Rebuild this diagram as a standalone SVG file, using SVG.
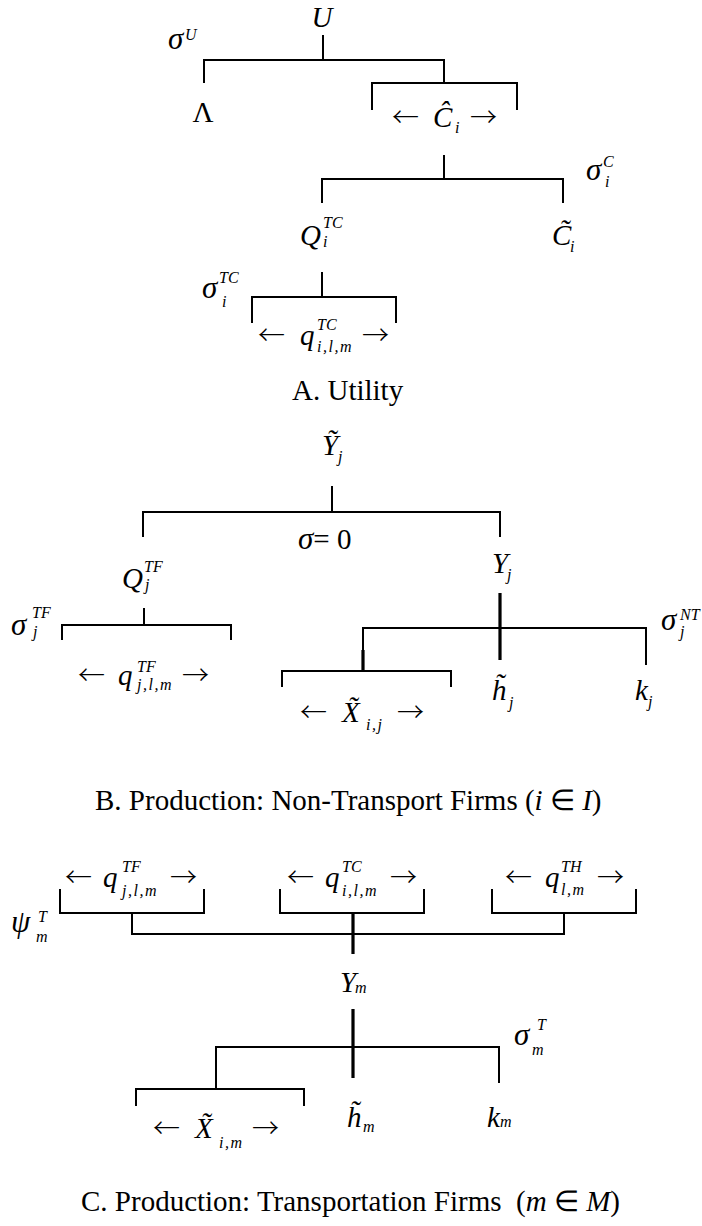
<svg xmlns="http://www.w3.org/2000/svg" width="702" height="1226" viewBox="0 0 702 1226">
<style>
.t{font-family:"Liberation Serif","Times New Roman",serif;fill:#000}
.i{font-style:italic}
.L{font-size:29px}
.S{font-size:16px}
.G{font-size:31px}
.A{font-family:"Noto Sans CJK JP","Liberation Serif",serif;font-size:27px;font-weight:300}
.cap{font-size:29px}
.sp{letter-spacing:1.5px}
.ln{stroke:#000;stroke-width:2;fill:none}
.tk{stroke:#000;stroke-width:3.2;fill:none}
</style>
<rect width="702" height="1226" fill="#fff"/>
<g id="connectors">
<path class="ln" d="M323 35V60M204 83V60H444V83M372 110V83H517V110M444 155V179M322 203V179H563V203M322 272V297M252 323V297H396V323"/>
<path class="ln" d="M332 486V512M143 537V512H500V537M144 608V625M62 640V625H231V640M363 650V628H646V665M282 687V671H451V687"/>
<path class="tk" d="M500 593V660M363 650V671"/>
<path class="ln" d="M60 889V913H204V889M280 889V913H424V889M492 889V913H636V889M132 913V934H564V913M216 1089V1047H499V1083M136 1106V1089H304V1106"/>
<path class="tk" d="M353 913V954M353 1009V1078"/>
</g>
<g id="node-U"><text class="t i L" x="322" y="27" text-anchor="middle">U</text></g>
<g id="sigma-U"><text class="t i G" x="168" y="49">σ<tspan class="S" x="185" y="40">U</tspan></text></g>
<g id="node-Lambda"><text class="t L" x="203" y="122" text-anchor="middle">Λ</text></g>
<g id="node-Chat"><text class="t A" x="392" y="127">←</text><text class="t i L" x="433" y="127">Ĉ<tspan class="S" x="455" y="133">i</tspan></text><text class="t A" x="470" y="127">→</text></g>
<g id="sigma-C"><text class="t i G" x="586" y="180">σ<tspan class="S" x="603" y="167">C</tspan><tspan class="S" x="605" y="187">i</tspan></text></g>
<g id="node-QTC"><text class="t i L" x="300" y="245">Q<tspan class="S" x="323" y="228">TC</tspan><tspan class="S" x="323" y="247">i</tspan></text></g>
<g id="node-Ctilde"><text class="t i L" x="552" y="245">C&#x303;<tspan class="S" x="570" y="252">i</tspan></text></g>
<g id="sigma-TC"><text class="t i G" x="202" y="298">σ<tspan class="S" x="219" y="283">TC</tspan><tspan class="S" x="222" y="307">i</tspan></text></g>
<g id="node-qTC"><text class="t A" x="258" y="345">←</text><text class="t i L" x="300" y="345">q<tspan class="S" x="317" y="330">TC</tspan><tspan class="S sp" x="317" y="352">i,l,m</tspan></text><text class="t A" x="362" y="345">→</text></g>
<g id="caption-A"><text class="t cap" x="292" y="400">A. Utility</text></g>

<g id="node-Ytilde"><text class="t i L" x="322" y="455">Ỹ<tspan class="S" x="338" y="462">j</tspan></text></g>
<g id="sigma-0"><text class="t L" x="298" y="549"><tspan class="i G">σ</tspan>= 0</text></g>
<g id="node-QTF"><text class="t i L" x="122" y="588">Q<tspan class="S" x="144" y="572">TF</tspan><tspan class="S" x="145" y="590">j</tspan></text></g>
<g id="sigma-TF"><text class="t i G" x="11" y="635">σ<tspan class="S" x="32" y="618">TF</tspan><tspan class="S" x="33" y="637">j</tspan></text></g>
<g id="node-qTF"><text class="t A" x="78" y="685">←</text><text class="t i L" x="118" y="685">q<tspan class="S" x="137" y="672">TF</tspan><tspan class="S sp" x="137" y="690">j,l,m</tspan></text><text class="t A" x="182" y="685">→</text></g>
<g id="node-Yj"><text class="t i L" x="492" y="573">Y<tspan class="S" x="507" y="580">j</tspan></text></g>
<g id="sigma-NT"><text class="t i G" x="661" y="630">σ<tspan class="S" x="680" y="620">NT</tspan><tspan class="S" x="680" y="637">j</tspan></text></g>
<g id="node-Xij"><text class="t A" x="300" y="722">←</text><text class="t i L" x="342" y="722">X&#x303;<tspan class="S sp" x="366" y="730">i,j</tspan></text><text class="t A" x="397" y="722">→</text></g>
<g id="node-hj"><text class="t i L" x="492" y="700">h&#x303;<tspan class="S" x="509" y="708">j</tspan></text></g>
<g id="node-kj"><text class="t i L" x="635" y="700">k<tspan class="S" x="648" y="707">j</tspan></text></g>
<g id="caption-B"><text class="t cap" x="95" y="810">B. Production: Non-Transport Firms (<tspan class="i">i</tspan> ∈ <tspan class="i">I</tspan>)</text></g>

<g id="node-qTF-C"><text class="t A" x="65" y="887">←</text><text class="t i L" x="103" y="887">q<tspan class="S" x="122" y="872">TF</tspan><tspan class="S sp" x="122" y="896">j,l,m</tspan></text><text class="t A" x="170" y="887">→</text></g>
<g id="node-qTC-C"><text class="t A" x="287" y="887">←</text><text class="t i L" x="325" y="887">q<tspan class="S" x="342" y="872">TC</tspan><tspan class="S sp" x="342" y="896">i,l,m</tspan></text><text class="t A" x="390" y="887">→</text></g>
<g id="node-qTH-C"><text class="t A" x="505" y="887">←</text><text class="t i L" x="545" y="887">q<tspan class="S" x="561" y="872">TH</tspan><tspan class="S sp" x="561" y="895">l,m</tspan></text><text class="t A" x="597" y="887">→</text></g>
<g id="psi-T"><text class="t i G" x="11" y="932">ψ<tspan class="S" x="38" y="922">T</tspan><tspan class="S" x="36" y="942">m</tspan></text></g>
<g id="node-Ym"><text class="t i L" x="340" y="992">Y<tspan class="S" x="355" y="993">m</tspan></text></g>
<g id="sigma-T"><text class="t i G" x="514" y="1045">σ<tspan class="S" x="537" y="1030">T</tspan><tspan class="S" x="532" y="1055">m</tspan></text></g>
<g id="node-Xim"><text class="t A" x="153" y="1138">←</text><text class="t i L" x="195" y="1138">X&#x303;<tspan class="S sp" x="219" y="1148">i,m</tspan></text><text class="t A" x="252" y="1138">→</text></g>
<g id="node-hm"><text class="t i L" x="347" y="1127">h&#x303;<tspan class="S" x="363" y="1132">m</tspan></text></g>
<g id="node-km"><text class="t i L" x="487" y="1127">k<tspan class="S" x="500" y="1127">m</tspan></text></g>
<g id="caption-C"><text class="t cap" x="81" y="1211">C. Production: Transportation Firms&#160; (<tspan class="i">m</tspan> ∈ <tspan class="i">M</tspan>)</text></g>
</svg>
